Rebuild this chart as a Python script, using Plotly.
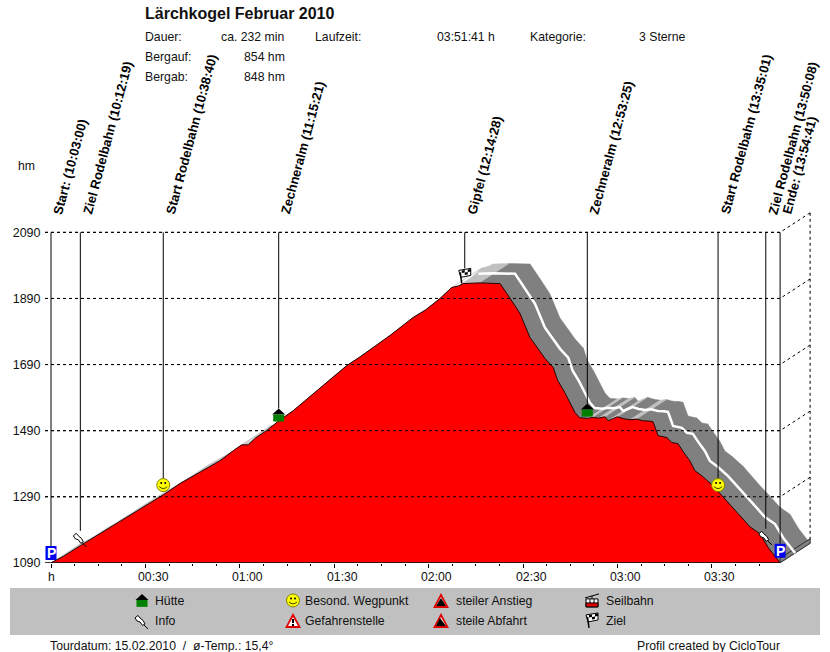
"""
Höhenprofil Lärchkogel Februar 2010 (CicloTour-Ansicht mit 3D-Band)
"""
import plotly.graph_objects as go

W, H = 830, 652
LAYOUT_H = 660  # die Seite zeigt sonst 8 px zu wenig Höhe
FONT = "Liberation Sans"

# Profil: Zeit in Minuten, Höhe in hm
PROFILE_MIN = [0, 4, 9.3, 15, 22, 29, 35.7, 41, 47, 53.7, 58, 60.6, 62.7, 65, 68.5, 72.4, 76.9,
               82, 88, 94, 98, 102.4, 108, 115, 119, 123.6, 127.3, 129.5, 131, 136, 142.7,
               145.9, 149, 152.2, 155, 157, 159.6, 161, 163, 165, 166.5, 168, 170.4, 172, 174,
               176, 177, 178.5, 180, 182, 184, 186, 188, 190, 191.3, 192.9, 195.7, 197.3, 199.2,
               201, 203, 204.6, 207, 210.4, 212.6, 216, 219, 222.1, 225.3, 228, 231.68]
PROFILE_HM = [1090, 1110, 1142, 1175, 1218, 1258, 1296, 1330, 1362, 1399, 1430, 1447, 1447, 1468,
              1490, 1520, 1550, 1590, 1640, 1687, 1712, 1741, 1780, 1832, 1855, 1890, 1923, 1928,
              1935, 1937, 1935, 1890, 1845, 1772, 1735, 1708, 1681, 1642, 1610, 1572, 1545, 1529,
              1527, 1530, 1528, 1532, 1520, 1526, 1532, 1526, 1523, 1525, 1520, 1519, 1517, 1475,
              1469, 1454, 1451, 1425, 1399, 1369, 1352, 1323, 1299, 1262, 1232, 1199, 1178, 1135,
              1090]

# Wegpunkte: Zeit, Höhe am Ende der Linie, Symbol, Beschriftung
WP_MIN = [0, 9.32, 35.67, 72.35, 131.47, 170.42, 211.97, 227.13, 231.68]
WP_HM = [1141, 1187, 1345, 1557, 1981, 1572, 1345, 1193, 1148]
WP_ICON = ["park", "pin", "smile", "house", "flag", "house", "smile", "pin", "park"]
WP_LABEL = ["Start: (10:03:00)", "Ziel Rodelbahn (10:12:19)", "Start Rodelbahn (10:38:40)",
            "Zechneralm (11:15:21)", "Gipfel (12:14:28)", "Zechneralm (12:53:25)",
            "Start Rodelbahn (13:35:01)", "Ziel Rodelbahn (13:50:08)", "Ende: (13:54:41)"]

Y_TICKS = [1090, 1290, 1490, 1690, 1890, 2090]
X_TICKS = [0, 30, 60, 90, 120, 150, 180, 210]
X_TICK_LABELS = ["h", "00:30", "01:00", "01:30", "02:00", "02:30", "03:00", "03:30"]
X_MINOR = [7.5, 15, 22.5, 37.5, 45, 52.5, 67.5, 75, 82.5, 97.5, 105, 112.5, 127.5, 135, 142.5,
           157.5, 165, 172.5, 187.5, 195, 202.5, 217.5, 225]

# Pixelmaßstab der Originalgrafik
PX_X0, PX_Y0 = 51, 562
PX_PER_MIN, PX_PER_HM = 3.147, 0.33
DEPTH_MIN = 30 / PX_PER_MIN
DEPTH_HM = 19.5 / PX_PER_HM
T_END = PROFILE_MIN[-1]
LEFT_MIN = (45 - PX_X0) / PX_PER_MIN
RIGHT_MIN = (813 - PX_X0) / PX_PER_MIN
TOP_HM = 1090 + (PX_Y0 - 208) / PX_PER_HM


def px(x):
    return x / W


def py(y):
    return 1 - y / H


def label(x, y, text, anchor="left", size=12.25, bold=False):
    shift = -2 if anchor == "left" else 2
    return dict(xref="paper", yref="paper", x=px(x), y=py(y), text=f"<b>{text}</b>" if bold else text,
                showarrow=False, xanchor=anchor, yanchor="middle", xshift=shift,
                font=dict(family=FONT, size=size, color="#111111"))


def poly(points):
    # y zeigt im Symbol nach unten, Plotly zählt Pixel nach oben
    return "M" + " L".join(f"{x},{-y}" for x, y in points) + " Z"


def icon_parts(kind):
    """Symbolteile in Pixeln, Ursprung oben in der Mitte des Symbols."""
    black = dict(color="black", width=1)
    none = dict(width=0)
    if kind == "house":
        return [("path", poly([(0, 0), (6.5, 6), (-6.5, 6)]), "black", none),
                ("path", poly([(-5.5, 6), (5.5, 6), (5.5, 13), (-5.5, 13)]), "#008000", none)]
    if kind == "park":
        return [("path", poly([(-5.5, 0), (5.5, 0), (5.5, 14), (-5.5, 14)]), "#0000f0", none)]
    if kind == "smile":
        return [("circle", (-6.5, 0, 6.5, 13), "#ffff00", dict(color="#808000", width=1)),
                ("circle", (-3, 3.5, -1, 5.5), "black", none),
                ("circle", (1, 3.5, 3, 5.5), "black", none),
                ("line", "M-4,-8 Q0,-12 4,-8", None, dict(color="#404000", width=1))]
    if kind == "pin":
        return [("path", poly([(-7, 5), (-4, 2.5), (-2, 5), (1, 7.5), (3, 11), (0.5, 12.5),
                               (-2, 9), (-5, 8)]), "white", black),
                ("line", "M2,-12 L6,-16", None, black)]
    if kind == "flag":
        return [("path", poly([(-6, 2), (6, 0), (6, 7), (-4, 9)]), "white", black),
                ("path", poly([(-3, 2), (0, 1.5), (0, 4), (-3, 4.5)]), "black", none),
                ("path", poly([(3, 1), (6, 0.5), (6, 3), (3, 3.5)]), "black", none),
                ("path", poly([(0, 4), (3, 3.5), (3, 6), (0, 6.5)]), "black", none),
                ("line", "M-4.5,-4 L-3,-15", None, dict(color="black", width=1.5))]
    if kind == "danger":
        return [("path", poly([(0, 0), (8, 15), (-8, 15)]), "#e00000", none),
                ("path", poly([(0, 4), (5, 13), (-5, 13)]), "white", none),
                ("path", poly([(-1, 6), (1, 6), (1, 10), (-1, 10)]), "black", none),
                ("path", poly([(-1, 11), (1, 11), (1, 13), (-1, 13)]), "black", none)]
    if kind == "up":
        return [("path", poly([(0, 0), (8, 15), (-8, 15)]), "#e00000", none),
                ("path", poly([(0, 4), (5, 13), (-5, 13)]), "white", none),
                ("path", poly([(0, 5), (5, 13), (-5, 13)]), "black", none)]
    if kind == "down":
        return [("path", poly([(0, 0), (8, 15), (-8, 15)]), "#e00000", none),
                ("path", poly([(0, 4), (5, 13), (-5, 13)]), "white", none),
                ("path", poly([(-1, 5), (5, 13), (-5, 13)]), "black", none)]
    if kind == "cable":
        return [("line", "M-7,-5 L7,-1", None, black),
                ("line", "M0,-3 L0,-6", None, black),
                ("path", poly([(-6, 6), (6, 6), (6, 14), (-6, 14)]), "white", black),
                ("path", poly([(-6, 10), (6, 10), (6, 14), (-6, 14)]), "#e00000", black),
                ("line", "M-2,-6 L-2,-10", None, black),
                ("line", "M2,-6 L2,-10", None, black)]
    return []


def icon_shapes(kind, xref, yref, xa, ya):
    shapes = []
    for part, geom, fill, line in icon_parts(kind):
        s = dict(xref=xref, yref=yref, xsizemode="pixel", ysizemode="pixel", xanchor=xa, yanchor=ya,
                 layer="above", line=line)
        if part == "circle":
            x0, y0, x1, y1 = geom
            s.update(type="circle", x0=x0, x1=x1, y0=-y0, y1=-y1, fillcolor=fill)
        else:
            s.update(type="path", path=geom)
            if fill:
                s["fillcolor"] = fill
        shapes.append(s)
    return shapes


fig = go.Figure()

# Gitter mit Tiefenlinien nach hinten
grid_x, grid_y = [], []
for v in Y_TICKS[1:]:
    grid_x += [LEFT_MIN, T_END, T_END + DEPTH_MIN, None]
    grid_y += [v, v, v + DEPTH_HM, None]
grid_x += [T_END + DEPTH_MIN, T_END + DEPTH_MIN]
grid_y += [2090 + DEPTH_HM, 1090 + DEPTH_HM]
fig.add_trace(go.Scatter(x=grid_x, y=grid_y, mode="lines", hoverinfo="skip", showlegend=False,
                         line=dict(color="black", width=1, dash="3px,3px")))

# Band: helle Segmente wenn flach/steigend, dunkel wenn fallend
light_x, light_y, dark_x, dark_y = [], [], [], []
for i in range(len(PROFILE_MIN) - 1):
    t0, t1 = PROFILE_MIN[i], PROFILE_MIN[i + 1]
    h0, h1 = PROFILE_HM[i], PROFILE_HM[i + 1]
    qx = [t0, t1, t1 + DEPTH_MIN, t0 + DEPTH_MIN, t0, None]
    qy = [h0, h1, h1 + DEPTH_HM, h0 + DEPTH_HM, h0, None]
    if h1 < h0:
        dark_x += qx
        dark_y += qy
    else:
        light_x += qx
        light_y += qy
for qx, qy, col in ((dark_x, dark_y, "#808080"), (light_x, light_y, "#c0c0c0")):
    fig.add_trace(go.Scatter(x=qx, y=qy, mode="lines", fill="toself", fillcolor=col, hoverinfo="skip",
                             showlegend=False, line=dict(color=col, width=0.5)))

# Abschlusskante rechts unten
fig.add_trace(go.Scatter(x=[T_END, T_END + DEPTH_MIN, T_END + DEPTH_MIN, T_END, T_END],
                         y=[1090, 1090 + DEPTH_HM, 1090 + DEPTH_HM + 14, 1104, 1090],
                         mode="lines", fill="toself", fillcolor="#808080", hoverinfo="skip",
                         showlegend=False, line=dict(color="#303030", width=1)))

# weiße Mittellinie nur ab dem Gipfel
peak = PROFILE_HM.index(max(PROFILE_HM)) - 1
fig.add_trace(go.Scatter(x=[t + DEPTH_MIN / 2 for t in PROFILE_MIN[peak:]],
                         y=[v + DEPTH_HM / 2 for v in PROFILE_HM[peak:]],
                         mode="lines", hoverinfo="skip", showlegend=False,
                         line=dict(color="white", width=2.5)))

# Profilfläche
fig.add_trace(go.Scatter(x=PROFILE_MIN, y=PROFILE_HM, mode="lines", fill="tozeroy", fillcolor="#ff0000",
                         showlegend=False, line=dict(color="#200000", width=1)))

# Gitterlinien vor der Fläche
front_x, front_y = [], []
for v in Y_TICKS[1:]:
    front_x += [LEFT_MIN, T_END, None]
    front_y += [v, v, None]
fig.add_trace(go.Scatter(x=front_x, y=front_y, mode="lines", hoverinfo="skip", showlegend=False,
                         line=dict(color="black", width=1, dash="3px,3px")))

# Linien zu den Wegpunkten
leader_x, leader_y = [], []
for t, v in zip(WP_MIN, WP_HM):
    leader_x += [t, t, None]
    leader_y += [2090, v, None]
fig.add_trace(go.Scatter(x=leader_x, y=leader_y, mode="lines", hoverinfo="skip", showlegend=False,
                         line=dict(color="black", width=1)))

shapes = [
    # Legendenfläche
    dict(type="rect", xref="paper", yref="paper", x0=px(10), x1=px(820), y0=py(634), y1=py(587),
         fillcolor="#c0c0c0", line=dict(width=0), layer="below"),
    # Grundlinie
    dict(type="line", xref="x", yref="y", x0=LEFT_MIN, x1=T_END, y0=1090, y1=1090,
         line=dict(color="black", width=1.5), layer="above"),
]
annotations = []

for t, v, kind, text in zip(WP_MIN, WP_HM, WP_ICON, WP_LABEL):
    shapes += icon_shapes(kind, "x", "y", t, v)
    annotations.append(dict(x=t, xref="x", y=py(218), yref="paper", text=f"<b>{text}</b>", textangle=-75,
                            showarrow=False, xanchor="left", yanchor="bottom", xshift=-3,
                            font=dict(family=FONT, size=13, color="black")))
    if kind == "park":
        annotations.append(dict(x=t, y=v, xref="x", yref="y", text="<b>P</b>", showarrow=False, yshift=-7,
                                font=dict(family=FONT, size=14, color="white")))

# Achsenbeschriftung mit Versatz wie im Original
for t, text in zip(X_TICKS, X_TICK_LABELS):
    annotations.append(dict(x=t, xref="x", y=py(576), yref="paper", text=text, showarrow=False,
                            xshift=0 if t == 0 else 8, yanchor="middle",
                            font=dict(family=FONT, size=12.25, color="#111111")))

# Kopf
annotations += [
    label(145, 13, "Lärchkogel Februar 2010", size=16, bold=True),
    label(145, 37, "Dauer:"), label(285, 37, "ca. 232 min", anchor="right"),
    label(315, 37, "Laufzeit:"), label(437, 37, "03:51:41 h"),
    label(530, 37, "Kategorie:"), label(639, 37, "3 Sterne"),
    label(145, 57, "Bergauf:"), label(285, 57, "854 hm", anchor="right"),
    label(145, 77, "Bergab:"), label(285, 77, "848 hm", anchor="right"),
    label(18, 166, "hm"),
    label(50, 645, "Tourdatum: 15.02.2010  /  ø-Temp.: 15,4°"),
    label(637, 645, "Profil created by CicloTour"),
]

# Legende
for kind, text, ix, iy, tx, ty in [
    ("house", "Hütte", 142, 593, 155, 600),
    ("pin", "Info", 142, 612, 155, 620),
    ("smile", "Besond. Wegpunkt", 293, 593, 305, 600),
    ("danger", "Gefahrenstelle", 293, 612, 305, 620),
    ("up", "steiler Anstieg", 441, 592, 456, 600),
    ("down", "steile Abfahrt", 441, 612, 456, 620),
    ("cable", "Seilbahn", 592, 592, 606, 600),
    ("flag", "Ziel", 592, 612, 606, 620),
]:
    shapes += icon_shapes(kind, "paper", "paper", px(ix), py(iy))
    annotations.append(label(tx, ty, text))

fig.update_layout(
    width=W, height=LAYOUT_H, autosize=False,
    margin=dict(l=0, r=0, t=0, b=0),
    paper_bgcolor="white", plot_bgcolor="white",
    showlegend=False,
    font=dict(family=FONT, size=12, color="#111111"),
    xaxis=dict(domain=[px(45), px(813)], range=[LEFT_MIN, RIGHT_MIN], showgrid=False, zeroline=False,
               showline=False, tickmode="array", tickvals=X_TICKS, showticklabels=False,
               ticks="outside", ticklen=4, tickcolor="black",
               minor=dict(tickmode="array", tickvals=X_MINOR, ticks="outside", ticklen=2, tickcolor="black")),
    yaxis=dict(domain=[py(PX_Y0), py(208)], range=[1090, TOP_HM], showgrid=False, zeroline=False,
               showline=False, tickmode="array", tickvals=Y_TICKS, ticks="outside", ticklen=1,
               tickcolor="white", tickfont=dict(family=FONT, size=12.5, color="#111111")),
    shapes=shapes,
    annotations=annotations,
)

fig.write_html("out.html", config={"displayModeBar": False}, post_script="document.body.style.margin='0';")
